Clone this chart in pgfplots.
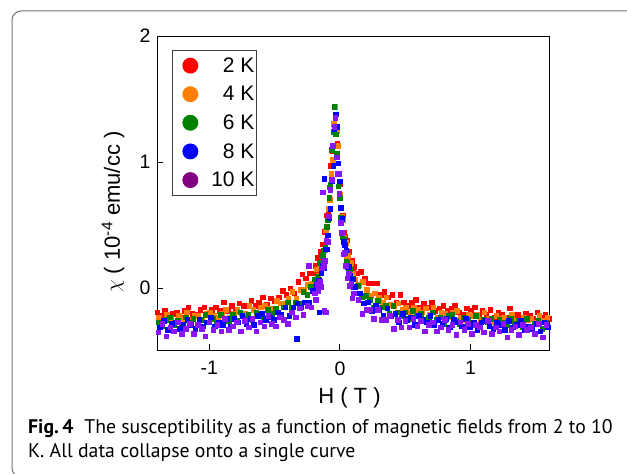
\documentclass[border=0pt]{standalone}
\usepackage{fontspec}
\setmainfont{Liberation Sans}
\newfontfamily\capfont{PT Sans}
\usepackage{pgfplots}
\pgfplotsset{compat=1.18}
\definecolor{cRed}{RGB}{255,0,0}
\definecolor{cOrange}{RGB}{255,128,0}
\definecolor{cGreen}{RGB}{0,128,0}
\definecolor{cBlue}{RGB}{0,0,255}
\definecolor{cViolet}{RGB}{140,20,250}
\definecolor{cPurple}{RGB}{128,0,128}
\begin{document}
\begin{tikzpicture}
\useasboundingbox (0pt,0pt) rectangle (627pt,474pt);
\draw[black!55, line width=1pt, rounded corners=9pt] (12pt,-3pt) rectangle (670pt,463pt);
\begin{axis}[
  at={(157pt,124pt)}, anchor=south west,
  scale only axis, width=392pt, height=314pt,
  xmin=-1.4, xmax=1.6, ymin=-0.49, ymax=2,
  xtick={-1,0,1}, ytick={0,1,2},
  xtick pos=bottom, ytick pos=left, tick align=inside,
  major tick length=6pt,
  axis line style={line width=0.9pt},
  every tick/.style={black, line width=0.9pt},
  /pgf/number format/assume math mode=true,
  ticklabel style={font=\fontsize{19.5}{19.5}\selectfont},
  yticklabel style={xshift=-3pt},
  xticklabel style={yshift=-8pt},
  xlabel={H ( T )},
  ylabel={$\chi$ ( 10\textsuperscript{-4} emu/cc )},
  label style={font=\fontsize{22}{22}\selectfont},
  xlabel style={at={(axis description cs:0.491,-0.1688)}, anchor=base},
  ylabel style={at={(axis description cs:-0.112,0.439)}, anchor=center, rotate=0},
  legend style={at={(rel axis cs:0.038,0.955)}, anchor=north west,
    draw=black!75, line width=0.9pt, inner xsep=0pt, inner ysep=5pt,
    row sep=8.5pt, column sep=11pt, font=\fontsize{21}{21}\selectfont},
  legend cell align=right,
  every axis plot/.append style={only marks, mark=square*, mark size=2.3pt, mark options={draw=none}},
]
\addplot[color=cRed, legend image code/.code={\path[draw=none,fill=none] (0pt,-7.5pt) rectangle (0.01pt,7.5pt); \fill[cRed] (18pt,0pt) circle (7.5pt);}] coordinates {
(-1.40,-0.19) (-1.37,-0.22) (-1.34,-0.18) (-1.31,-0.23) (-1.28,-0.20) (-1.25,-0.19) (-1.22,-0.23) (-1.19,-0.18) (-1.16,-0.15) (-1.13,-0.20) (-1.10,-0.21) (-1.07,-0.17) (-1.04,-0.15) (-1.01,-0.21) (-0.98,-0.17) (-0.95,-0.15) (-0.92,-0.18) (-0.89,-0.11) (-0.86,-0.18) (-0.83,-0.14) (-0.80,-0.18) (-0.77,-0.12) (-0.74,-0.14) (-0.71,-0.14) (-0.68,-0.10) (-0.65,-0.14) (-0.62,-0.11) (-0.59,-0.07) (-0.56,-0.13) (-0.53,-0.08) (-0.50,-0.10) (-0.47,-0.07) (-0.44,-0.02) (-0.41,-0.05) (-0.38,0.00) (-0.35,-0.04) (-0.32,0.05) (-0.29,0.11) (-0.26,0.08) (-0.23,0.12) (-0.20,0.12)
(-0.19,0.18) (-0.18,0.14) (-0.17,0.24) (-0.16,0.21) (-0.15,0.29) (-0.14,0.25) (-0.13,0.35) (-0.12,0.45) (-0.11,0.45) (-0.10,0.58) (-0.09,0.60) (-0.08,0.80) (-0.07,0.97) (-0.06,1.09) (-0.05,1.30) (-0.04,1.44) (-0.03,1.26) (-0.02,1.15) (-0.01,0.91) (0.00,0.83) (0.01,0.64) (0.02,0.58) (0.03,0.44) (0.04,0.41) (0.05,0.38) (0.06,0.27) (0.07,0.29) (0.08,0.21) (0.09,0.22) (0.10,0.14) (0.11,0.17)
(0.13,0.12) (0.16,0.13) (0.19,0.08) (0.22,0.04) (0.25,0.04) (0.28,0.04) (0.31,-0.05) (0.34,-0.03) (0.37,-0.07) (0.40,-0.05) (0.43,-0.11) (0.46,-0.05) (0.49,-0.11) (0.52,-0.14) (0.55,-0.11) (0.58,-0.09) (0.61,-0.15) (0.64,-0.12) (0.67,-0.15) (0.70,-0.11) (0.73,-0.18) (0.76,-0.16) (0.79,-0.14) (0.82,-0.18) (0.85,-0.16) (0.88,-0.14) (0.91,-0.19) (0.94,-0.21) (0.97,-0.16) (1.00,-0.18) (1.03,-0.15) (1.06,-0.21) (1.09,-0.18) (1.12,-0.21) (1.15,-0.17) (1.18,-0.23) (1.21,-0.19) (1.24,-0.21) (1.27,-0.23) (1.30,-0.16) (1.33,-0.22) (1.36,-0.21) (1.39,-0.25) (1.42,-0.20) (1.45,-0.22) (1.48,-0.24) (1.51,-0.19) (1.54,-0.23) (1.57,-0.21) (1.60,-0.24)
};
\addlegendentry{2 K}
\addplot[color=cOrange, legend image code/.code={\path[draw=none,fill=none] (0pt,-7.5pt) rectangle (0.01pt,7.5pt); \fill[cOrange] (18pt,0pt) circle (7.5pt);}] coordinates {
(-1.385,-0.23) (-1.355,-0.26) (-1.325,-0.21) (-1.295,-0.24) (-1.265,-0.27) (-1.235,-0.22) (-1.205,-0.24) (-1.175,-0.19) (-1.145,-0.25) (-1.115,-0.22) (-1.085,-0.22) (-1.055,-0.25) (-1.025,-0.20) (-0.995,-0.19) (-0.965,-0.22) (-0.935,-0.23) (-0.905,-0.20) (-0.875,-0.17) (-0.845,-0.23) (-0.815,-0.20) (-0.785,-0.17) (-0.755,-0.20) (-0.725,-0.20) (-0.695,-0.14) (-0.665,-0.17) (-0.635,-0.20) (-0.605,-0.15) (-0.575,-0.14) (-0.545,-0.16) (-0.515,-0.16) (-0.485,-0.10) (-0.455,-0.12) (-0.425,-0.12) (-0.395,-0.08) (-0.365,-0.03) (-0.335,-0.08) (-0.305,-0.01) (-0.275,-0.01) (-0.245,0.03) (-0.215,0.04)
(-0.187,0.07) (-0.177,0.15) (-0.167,0.10) (-0.157,0.18) (-0.147,0.15) (-0.137,0.26) (-0.127,0.28) (-0.117,0.30) (-0.107,0.46) (-0.097,0.49) (-0.087,0.63) (-0.077,0.70) (-0.067,0.91) (-0.057,1.02) (-0.047,1.31) (-0.037,1.44) (-0.027,1.25) (-0.017,1.13) (-0.007,0.85) (0.003,0.74) (0.013,0.57) (0.023,0.54) (0.033,0.40) (0.043,0.36) (0.053,0.23) (0.063,0.26) (0.073,0.18) (0.083,0.20) (0.093,0.10) (0.103,0.12) (0.113,0.07)
(0.145,0.03) (0.175,0.05) (0.205,-0.01) (0.235,-0.06) (0.265,-0.04) (0.295,-0.07) (0.325,-0.11) (0.355,-0.07) (0.385,-0.13) (0.415,-0.14) (0.445,-0.12) (0.475,-0.17) (0.505,-0.15) (0.535,-0.19) (0.565,-0.15) (0.595,-0.17) (0.625,-0.19) (0.655,-0.16) (0.685,-0.21) (0.715,-0.15) (0.745,-0.23) (0.775,-0.19) (0.805,-0.20) (0.835,-0.23) (0.865,-0.19) (0.895,-0.18) (0.925,-0.23) (0.955,-0.25) (0.985,-0.21) (1.015,-0.22) (1.045,-0.21) (1.075,-0.25) (1.105,-0.19) (1.135,-0.24) (1.165,-0.27) (1.195,-0.22) (1.225,-0.24) (1.255,-0.23) (1.285,-0.26) (1.315,-0.21) (1.345,-0.26) (1.375,-0.28) (1.405,-0.23) (1.435,-0.25) (1.465,-0.24) (1.495,-0.27) (1.525,-0.22) (1.555,-0.26) (1.585,-0.23)
};
\addlegendentry{4 K}
\addplot[color=cGreen, legend image code/.code={\path[draw=none,fill=none] (0pt,-7.5pt) rectangle (0.01pt,7.5pt); \fill[cGreen] (18pt,0pt) circle (7.5pt);}] coordinates {
(-1.392,-0.27) (-1.362,-0.30) (-1.332,-0.25) (-1.302,-0.23) (-1.272,-0.29) (-1.242,-0.26) (-1.212,-0.30) (-1.182,-0.23) (-1.152,-0.27) (-1.122,-0.24) (-1.092,-0.29) (-1.062,-0.25) (-1.032,-0.21) (-1.002,-0.27) (-0.972,-0.24) (-0.942,-0.28) (-0.912,-0.21) (-0.882,-0.24) (-0.852,-0.26) (-0.822,-0.21) (-0.792,-0.26) (-0.762,-0.19) (-0.732,-0.23) (-0.702,-0.21) (-0.672,-0.25) (-0.642,-0.19) (-0.612,-0.20) (-0.582,-0.23) (-0.552,-0.17) (-0.522,-0.20) (-0.492,-0.16) (-0.462,-0.21) (-0.432,-0.15) (-0.402,-0.11) (-0.372,-0.15) (-0.342,-0.11) (-0.312,-0.12) (-0.282,-0.03) (-0.252,-0.05) (-0.222,0.01)
(-0.193,0.07) (-0.183,0.04) (-0.173,0.09) (-0.163,0.07) (-0.153,0.20) (-0.143,0.16) (-0.133,0.26) (-0.123,0.30) (-0.113,0.32) (-0.103,0.49) (-0.093,0.54) (-0.083,0.72) (-0.073,0.82) (-0.063,1.10) (-0.053,1.24) (-0.043,1.44) (-0.033,1.22) (-0.023,1.07) (-0.013,0.81) (-0.003,0.72) (0.007,0.56) (0.017,0.41) (0.027,0.39) (0.037,0.35) (0.047,0.21) (0.057,0.20) (0.067,0.13) (0.077,0.15) (0.087,0.07) (0.097,0.08) (0.107,0.01)
(0.138,0.02) (0.168,-0.07) (0.198,-0.06) (0.228,-0.09) (0.258,-0.15) (0.288,-0.10) (0.318,-0.15) (0.348,-0.14) (0.378,-0.20) (0.408,-0.14) (0.438,-0.19) (0.468,-0.22) (0.498,-0.19) (0.528,-0.24) (0.558,-0.18) (0.588,-0.22) (0.618,-0.20) (0.648,-0.25) (0.678,-0.23) (0.708,-0.19) (0.738,-0.25) (0.768,-0.23) (0.798,-0.28) (0.828,-0.22) (0.858,-0.21) (0.888,-0.26) (0.918,-0.28) (0.948,-0.23) (0.978,-0.25) (1.008,-0.28) (1.038,-0.22) (1.068,-0.29) (1.098,-0.25) (1.128,-0.27) (1.158,-0.24) (1.188,-0.31) (1.218,-0.25) (1.248,-0.27) (1.278,-0.29) (1.308,-0.24) (1.338,-0.28) (1.368,-0.26) (1.398,-0.31) (1.428,-0.24) (1.458,-0.30) (1.488,-0.28) (1.518,-0.26) (1.548,-0.32) (1.578,-0.27)
};
\addlegendentry{6 K}
\addplot[color=cBlue, legend image code/.code={\path[draw=none,fill=none] (0pt,-7.5pt) rectangle (0.01pt,7.5pt); \fill[cBlue] (18pt,0pt) circle (7.5pt);}] coordinates {
(-1.378,-0.31) (-1.348,-0.26) (-1.318,-0.33) (-1.288,-0.28) (-1.258,-0.27) (-1.228,-0.32) (-1.198,-0.29) (-1.168,-0.25) (-1.138,-0.29) (-1.108,-0.32) (-1.078,-0.25) (-1.048,-0.30) (-1.018,-0.27) (-0.988,-0.23) (-0.958,-0.30) (-0.928,-0.27) (-0.898,-0.29) (-0.868,-0.24) (-0.838,-0.30) (-0.808,-0.24) (-0.778,-0.27) (-0.748,-0.22) (-0.718,-0.28) (-0.688,-0.24) (-0.658,-0.29) (-0.628,-0.22) (-0.598,-0.20) (-0.568,-0.25) (-0.538,-0.23) (-0.508,-0.25) (-0.478,-0.19) (-0.448,-0.21) (-0.418,-0.15) (-0.388,-0.22) (-0.358,-0.15) (-0.328,-0.12) (-0.298,-0.15) (-0.268,-0.11) (-0.238,-0.11) (-0.208,-0.02)
(-0.183,0.03) (-0.173,-0.02) (-0.163,0.06) (-0.153,0.02) (-0.143,0.12) (-0.133,0.18) (-0.123,0.16) (-0.113,0.31) (-0.103,0.31) (-0.093,0.42) (-0.083,0.56) (-0.073,0.63) (-0.063,0.85) (-0.053,0.97) (-0.043,1.26) (-0.033,1.38) (-0.023,1.28) (-0.013,0.99) (-0.003,0.85) (0.007,0.64) (0.017,0.55) (0.027,0.37) (0.037,0.34) (0.047,0.30) (0.057,0.17) (0.067,0.17) (0.077,0.10) (0.087,0.03) (0.097,0.07) (0.107,0.01) (0.117,0.01)
(-0.16,-0.19) (-0.33,-0.40) (-0.12,0.87)
(0.152,-0.04) (0.182,-0.12) (0.212,-0.11) (0.242,-0.18) (0.272,-0.14) (0.302,-0.17) (0.332,-0.22) (0.362,-0.16) (0.392,-0.22) (0.422,-0.20) (0.452,-0.27) (0.482,-0.20) (0.512,-0.25) (0.542,-0.23) (0.572,-0.29) (0.602,-0.22) (0.632,-0.25) (0.662,-0.27) (0.692,-0.22) (0.722,-0.29) (0.752,-0.25) (0.782,-0.28) (0.812,-0.24) (0.842,-0.31) (0.872,-0.25) (0.902,-0.27) (0.932,-0.30) (0.962,-0.24) (0.992,-0.31) (1.022,-0.27) (1.052,-0.33) (1.082,-0.27) (1.112,-0.26) (1.142,-0.30) (1.172,-0.32) (1.202,-0.27) (1.232,-0.29) (1.262,-0.33) (1.292,-0.26) (1.322,-0.31) (1.352,-0.29) (1.382,-0.26) (1.412,-0.33) (1.442,-0.30) (1.472,-0.32) (1.502,-0.28) (1.532,-0.34) (1.562,-0.27) (1.592,-0.31)
};
\addlegendentry{8 K}
\addplot[color=cViolet, legend image code/.code={\path[draw=none,fill=none] (0pt,-7.5pt) rectangle (0.01pt,7.5pt); \fill[cPurple] (18pt,0pt) circle (7.5pt);}] coordinates {
(-1.39,-0.35) (-1.36,-0.28) (-1.33,-0.38) (-1.30,-0.31) (-1.27,-0.34) (-1.24,-0.27) (-1.21,-0.36) (-1.18,-0.32) (-1.15,-0.28) (-1.12,-0.36) (-1.09,-0.29) (-1.06,-0.32) (-1.03,-0.38) (-1.00,-0.27) (-0.97,-0.33) (-0.94,-0.29) (-0.91,-0.34) (-0.88,-0.24) (-0.85,-0.33) (-0.82,-0.30) (-0.79,-0.27) (-0.76,-0.34) (-0.73,-0.26) (-0.70,-0.31) (-0.67,-0.24) (-0.64,-0.34) (-0.61,-0.27) (-0.58,-0.30) (-0.55,-0.22) (-0.52,-0.28) (-0.49,-0.30) (-0.46,-0.23) (-0.43,-0.25) (-0.40,-0.28) (-0.37,-0.19) (-0.34,-0.23) (-0.31,-0.16) (-0.28,-0.21) (-0.25,-0.14) (-0.22,-0.15)
(-0.195,-0.04) (-0.185,-0.09) (-0.175,0.03) (-0.165,-0.02) (-0.155,0.05) (-0.145,0.01) (-0.135,0.16) (-0.125,0.18) (-0.115,0.22) (-0.105,0.38) (-0.095,0.37) (-0.085,0.57) (-0.075,0.78) (-0.065,0.86) (-0.055,1.13) (-0.045,1.28) (-0.035,1.35) (-0.025,1.04) (-0.015,0.91) (-0.005,0.75) (0.005,0.52) (0.015,0.44) (0.025,0.27) (0.035,0.28) (0.045,0.18) (0.055,0.08) (0.065,0.12) (0.075,0.02) (0.085,0.04) (0.095,-0.08) (0.105,-0.04)
(-0.11,-0.19) (-0.12,-0.18) (-0.24,0.18) (-0.13,0.76)
(0.14,-0.09) (0.17,-0.20) (0.20,-0.17) (0.23,-0.17) (0.26,-0.24) (0.29,-0.17) (0.32,-0.25) (0.35,-0.25) (0.38,-0.22) (0.41,-0.32) (0.44,-0.25) (0.47,-0.31) (0.50,-0.26) (0.53,-0.31) (0.56,-0.24) (0.59,-0.30) (0.62,-0.26) (0.65,-0.34) (0.68,-0.29) (0.71,-0.27) (0.74,-0.34) (0.77,-0.31) (0.80,-0.25) (0.83,-0.33) (0.86,-0.29) (0.89,-0.37) (0.92,-0.27) (0.95,-0.33) (0.98,-0.28) (1.01,-0.36) (1.04,-0.29) (1.07,-0.31) (1.10,-0.35) (1.13,-0.26) (1.16,-0.36) (1.19,-0.31) (1.22,-0.34) (1.25,-0.28) (1.28,-0.39) (1.31,-0.33) (1.34,-0.30) (1.37,-0.37) (1.40,-0.29) (1.43,-0.33) (1.46,-0.31) (1.49,-0.36) (1.52,-0.28) (1.55,-0.39) (1.58,-0.29)
};
\addlegendentry{10 K}
\end{axis}
\node[anchor=base west, inner sep=0pt, font=\capfont\fontsize{19.75}{24}\selectfont] at (28pt,40pt) {\textbf{Fig.\,4}\hspace{0.55em}The susceptibility as a function of magnetic fields from 2 to 10};
\node[anchor=base west, inner sep=0pt, font=\capfont\fontsize{19.75}{24}\selectfont] at (28pt,16pt) {K. All data collapse onto a single curve};
\end{tikzpicture}
\end{document}
